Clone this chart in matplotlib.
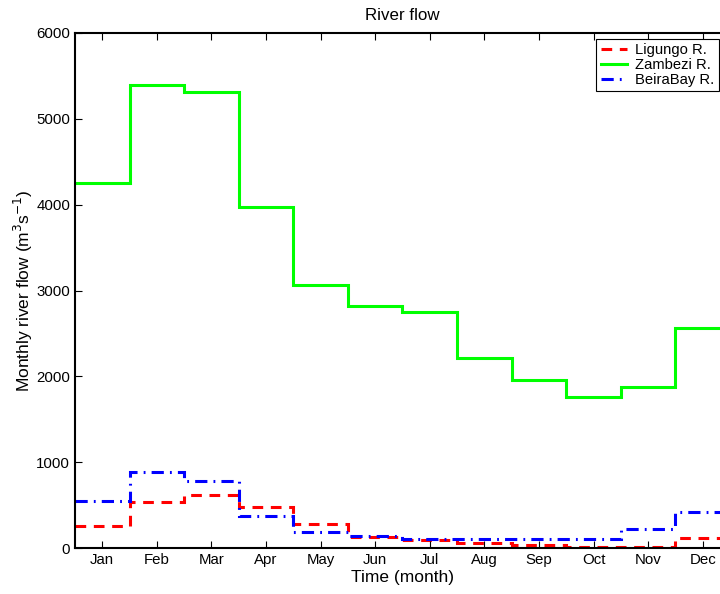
import numpy as np
import matplotlib
matplotlib.use("Agg")
import matplotlib.pyplot as plt

plt.rcParams['font.family'] = ['Liberation Sans', 'DejaVu Sans']

months = ['Jan', 'Feb', 'Mar', 'Apr', 'May', 'Jun', 'Jul', 'Aug', 'Sep', 'Oct', 'Nov', 'Dec']
ligungo = [262, 540, 617, 474, 280, 125, 93, 60, 31, 15, 15, 116]
zambezi = [4250, 5400, 5310, 3970, 3060, 2820, 2750, 2214, 1957, 1760, 1876, 2563]
beirabay = [550, 882, 785, 373, 190, 135, 101, 103, 105, 105, 221, 423]

fig = plt.figure(figsize=(7.2, 5.94), dpi=100)
ax = fig.add_axes([75/720, 1-548/594, 655/720, 515/594])

x = np.arange(1, len(months) + 1)
edges = np.concatenate([x - 0.5, [x[-1] + 0.5]])

ax.stairs(ligungo, edges, color='#ff0000', lw=2.2, linestyle=(0, (3.5, 2.5)), label='Ligungo R.', baseline=None)
ax.stairs(zambezi, edges, color='#00ff00', lw=2.2, label='Zambezi R.', baseline=None)
ax.stairs(beirabay, edges, color='#0000ff', lw=2.2, linestyle=(0, (4, 2, 0.6, 2)), label='BeiraBay R.', baseline=None)

ax.set_xlim(0.5, 12.5)
ax.set_ylim(0, 6000)
ax.set_xticks(x)
ax.set_xticklabels(months)
ax.set_yticks(np.arange(0, 6001, 1000))
ax.tick_params(direction='in', top=True, right=True, labelsize=10.8, length=5, width=0.8)
for s in ax.spines.values():
    s.set_linewidth(1.5)

ax.set_title('River flow', fontsize=12.2, pad=9)
ax.set_xlabel('Time (month)', fontsize=12.5, labelpad=2)
ax.set_ylabel('Monthly river flow (m$^3$s$^{-1}$)', fontsize=12.5, labelpad=1)

leg = ax.legend(loc='upper right', bbox_to_anchor=(1 - 5/655, 1), fontsize=10.6, fancybox=False,
                framealpha=1, edgecolor='black', borderaxespad=0.4, handlelength=1.75,
                labelspacing=0.05, borderpad=0.3, handletextpad=0.6)
leg.get_frame().set_linewidth(0.8)

fig.savefig('out.png', dpi=100)
